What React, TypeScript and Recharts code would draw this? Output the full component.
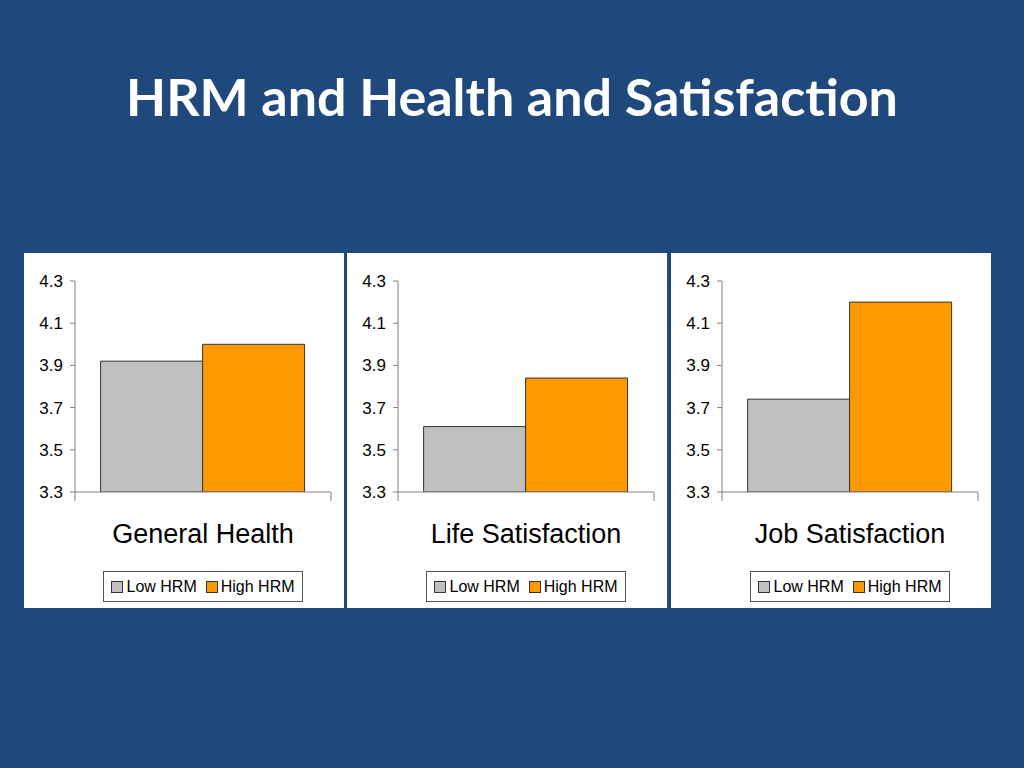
import React from 'react';
import { BarChart, Bar, XAxis, YAxis, Legend } from 'recharts';

const CATEGORIES = ['General Health', 'Life Satisfaction', 'Job Satisfaction'];
const LOW_HRM = [3.92, 3.61, 3.74];
const HIGH_HRM = [4.0, 3.84, 4.2];
const SERIES = ['Low HRM', 'High HRM'];
const Y_TICKS = [3.3, 3.5, 3.7, 3.9, 4.1, 4.3];

const COLORS = ['#c0c0c0', '#ff9900'];
const AXIS_COLOR = '#808080';
const FONT = '"Liberation Sans", Arial, sans-serif';

const PANEL_LEFT = [24, 347, 671];

// category label plus the little down-ticks at both edges of the band
const CategoryTick = (props: any) => {
  const { x, y, payload, width, visibleTicksCount } = props;
  const half = width / (visibleTicksCount || 1) / 2;
  return (
    <g>
      <line x1={x - half} y1={y} x2={x - half} y2={y + 9} stroke={AXIS_COLOR} />
      <line x1={x + half} y1={y} x2={x + half} y2={y + 9} stroke={AXIS_COLOR} />
      <text x={x} y={y + 51} textAnchor="middle" fontSize={27} fill="#000" fontFamily={FONT}>
        {payload.value}
      </text>
    </g>
  );
};

const BoxLegend = (props: any) => {
  const items = [...(props.payload || [])].sort(
    (a: any, b: any) => SERIES.indexOf(a.value) - SERIES.indexOf(b.value)
  );
  return (
    <div style={{ textAlign: 'center', lineHeight: 0 }}>
      <div
        style={{
          display: 'inline-flex',
          alignItems: 'center',
          boxSizing: 'border-box',
          height: 31,
          padding: '0 7px',
          border: '1px solid #555',
          background: '#fff',
          fontFamily: FONT,
          fontSize: 16,
          lineHeight: '18px',
          color: '#000',
        }}
      >
        {items.map((item: any, i: number) => (
          <span key={i} style={{ display: 'inline-flex', alignItems: 'center', marginLeft: i ? 9 : 0 }}>
            <span
              style={{
                display: 'inline-block',
                width: 10,
                height: 10,
                background: item.color,
                border: '1px solid #333',
                marginRight: 3,
              }}
            />
            {item.value}
          </span>
        ))}
      </div>
    </div>
  );
};

const Panel: React.FC<{ index: number }> = ({ index }) => {
  const data = [{ name: CATEGORIES[index], low: LOW_HRM[index], high: HIGH_HRM[index] }];
  return (
    <div
      style={{
        position: 'absolute',
        left: PANEL_LEFT[index],
        top: 253,
        width: 320,
        height: 355,
        background: '#fff',
      }}
    >
      <BarChart
        width={320}
        height={355}
        data={data}
        margin={{ top: 28, right: 13, left: 0, bottom: 6 }}
        barCategoryGap="10%"
        barGap={0}
      >
        <XAxis
          dataKey="name"
          tick={<CategoryTick />}
          tickLine={false}
          tickSize={0}
          tickMargin={0}
          axisLine={{ stroke: AXIS_COLOR }}
          height={79}
          interval={0}
        />
        <YAxis
          domain={[3.3, 4.3]}
          ticks={Y_TICKS}
          allowDataOverflow
          width={51}
          tickSize={5}
          tickMargin={7}
          tickFormatter={(v: number) => v.toFixed(1)}
          tick={{ fill: '#000', fontSize: 17, fontFamily: FONT }}
          axisLine={{ stroke: AXIS_COLOR }}
          tickLine={{ stroke: AXIS_COLOR }}
        />
        <Legend
          verticalAlign="bottom"
          content={<BoxLegend />}
          wrapperStyle={{ left: 51, width: 256 }}
        />
        <Bar dataKey="low" name={SERIES[0]} fill={COLORS[0]} stroke="#333" strokeWidth={1} isAnimationActive={false} />
        <Bar dataKey="high" name={SERIES[1]} fill={COLORS[1]} stroke="#333" strokeWidth={1} isAnimationActive={false} />
      </BarChart>
    </div>
  );
};

export default function App() {
  return (
    <div
      style={{
        position: 'absolute',
        left: 0,
        top: 0,
        width: 1024,
        height: 768,
        background: '#1f497d',
        overflow: 'hidden',
      }}
    >
      <div
        style={{
          position: 'absolute',
          left: 0,
          top: 70,
          width: 1024,
          textAlign: 'center',
          color: '#fff',
          fontFamily: 'Lato, "Open Sans", sans-serif',
          fontWeight: 700,
          fontSize: 52,
          lineHeight: '52px',
        }}
      >
        HRM and Health and Satisfaction
      </div>
      {CATEGORIES.map((_, i) => (
        <Panel key={i} index={i} />
      ))}
    </div>
  );
}
